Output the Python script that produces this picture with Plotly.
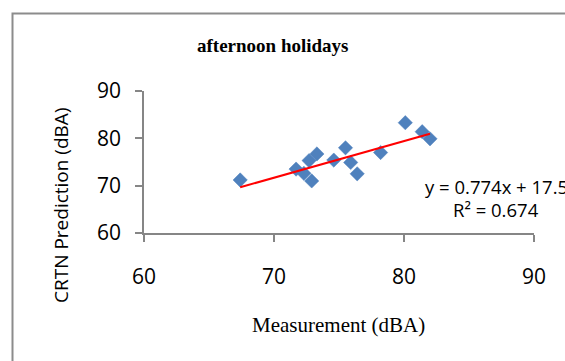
import plotly.graph_objects as go

# Data
measurement = [67.4, 71.7, 72.3, 72.9, 72.7, 73.3, 74.6, 75.5, 75.9, 76.4, 78.2, 80.1, 81.4, 82.0]
prediction = [71.2, 73.5, 72.6, 71.0, 75.3, 76.7, 75.4, 78.0, 74.9, 72.5, 77.0, 83.3, 81.4, 79.9]
slope = 0.774
intercept = 17.5
r2 = 0.674
tick_vals = [60, 70, 80, 90]

W, H = 565, 361
L, R, T, B = 144, 534, 91, 233


def px(x):
    return (x - L) / (R - L)


def py(y):
    return (B - y) / (B - T)


x_min, x_max = min(measurement), max(measurement)
trend_x = [x_min, x_max]
trend_y = [slope * v + intercept for v in trend_x]

fig = go.Figure()
fig.add_trace(go.Scatter(
    x=measurement, y=prediction, mode="markers",
    marker=dict(symbol="diamond", size=11, color="#4F81BD",
                line=dict(width=0.5, color="#4F81BD")),
    showlegend=False, cliponaxis=False,
))
fig.add_trace(go.Scatter(
    x=trend_x, y=trend_y, mode="lines",
    line=dict(color="#FF0000", width=2), showlegend=False,
))

axis_common = dict(
    range=[60, 90], tickvals=tick_vals, showgrid=False, zeroline=False,
    showline=True, linecolor="#868686", linewidth=1.5,
    ticks="outside", ticklen=7, tickcolor="#868686", tickwidth=1.5,
    tickfont=dict(family="Open Sans", size=21, color="#000000"),
)
fig.update_xaxes(**axis_common, ticklabelstandoff=17)
fig.update_yaxes(**axis_common, ticklabelstandoff=10)

fig.update_layout(
    width=W, height=H,
    margin=dict(l=L, r=W - R, t=T, b=H - B),
    paper_bgcolor="white", plot_bgcolor="white",
    shapes=[dict(type="rect", xref="paper", yref="paper",
                 x0=px(12.5), x1=px(700), y0=py(500), y1=py(13.5),
                 line=dict(color="#8C8C8C", width=2), layer="below")],
    annotations=[
        dict(text="<b>afternoon holidays</b>", xref="paper", yref="paper",
             x=px(272.5), y=py(45), xanchor="center", yanchor="middle",
             showarrow=False,
             font=dict(family="Liberation Serif", size=19, color="#000000")),
        dict(text="Measurement (dBA)", xref="paper", yref="paper",
             x=px(338), y=py(325), xanchor="center", yanchor="middle",
             showarrow=False,
             font=dict(family="Liberation Serif", size=21, color="#000000")),
        dict(text="CRTN Prediction (dBA)", xref="paper", yref="paper",
             x=px(61), y=py(205), xanchor="center", yanchor="middle",
             textangle=-90, showarrow=False,
             font=dict(family="Open Sans", size=19, color="#000000")),
        dict(text=f"y = {slope}x + {intercept}", xref="paper", yref="paper",
             x=px(423), y=py(186), xanchor="left", yanchor="middle",
             showarrow=False,
             font=dict(family="Open Sans", size=18.5, color="#000000")),
        dict(text=f"R² = {r2}", xref="paper", yref="paper",
             x=px(496), y=py(209), xanchor="center", yanchor="middle",
             showarrow=False,
             font=dict(family="Open Sans", size=18.5, color="#000000")),
    ],
)

fig.write_html("out.html")
